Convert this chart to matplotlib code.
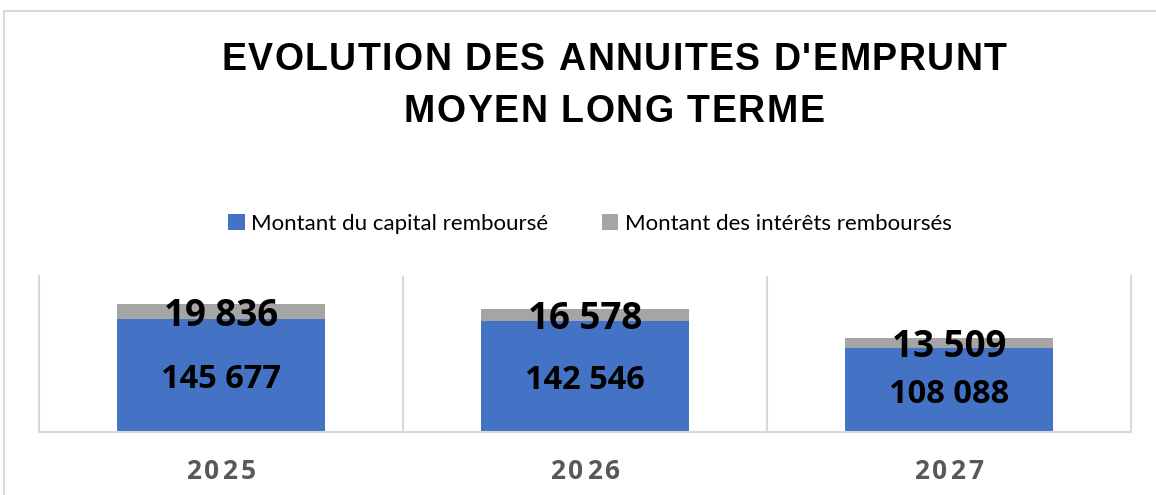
import numpy as np
import matplotlib
matplotlib.use("Agg")
import matplotlib.pyplot as plt
from matplotlib.font_manager import FontProperties
from matplotlib.transforms import offset_copy, blended_transform_factory
from matplotlib.patches import Rectangle

# --------------------- Data ----------------------
years = ["2025", "2026", "2027"]
capital = [145677, 142546, 108088]
interets = [19836, 16578, 13509]
series_names = ["Montant du capital remboursé", "Montant des intérêts remboursés"]
title_lines = ["EVOLUTION DES ANNUITES D'EMPRUNT", "MOYEN LONG TERME"]

BLUE = "#4472C4"
GREY = "#A5A5A5"
GRID = "#D9D9D9"
W, H = 1156, 495


def fmt(v):
    return f"{v:,}".replace(",", " ")


def spaced_text(fig, x, y, s, transform, spacing, fp, yoff=0, **kw):
    # no letter spacing in matplotlib: place the characters one by one
    renderer = fig.canvas.get_renderer()
    widths = [renderer.get_text_width_height_descent(c, fp, ismath=False)[0] for c in s]
    total = sum(widths) + spacing * (len(s) - 1)
    pos = -total / 2
    for c, w in zip(s, widths):
        tr = offset_copy(transform, fig=fig, x=pos + w / 2, y=yoff, units="dots")
        fig.text(x, y, c, transform=tr, fontproperties=fp, ha="center", **kw)
        pos += w + spacing


# --------------------- Plotting ------------------------
fig = plt.figure(figsize=(W / 100, H / 100), dpi=100)
ax = fig.add_axes([39 / W, 63 / H, 1092 / W, 156 / H])

x = np.arange(len(years))
b1 = ax.bar(x, capital, width=0.57, color=BLUE, zorder=2)
b2 = ax.bar(x, interets, bottom=capital, width=0.57, color=GREY, zorder=2)

ax.set_xlim(-0.5, len(years) - 0.5)
ax.set_ylim(0, 201000)
ax.set_xticks([])
ax.set_yticks([])
ax.spines["top"].set_visible(False)
for s in ["left", "right", "bottom"]:
    ax.spines[s].set_color(GRID)
    ax.spines[s].set_linewidth(1.5)
for b in x[:-1] + 0.5:
    ax.axvline(b, color=GRID, lw=1.5, zorder=0)

for xi, c, i in zip(x, capital, interets):
    ax.text(xi, c / 2, fmt(c), ha="center", va="center_baseline",
            family="Open Sans", fontweight="bold", fontsize=23.5, zorder=3)
    ax.text(xi, c + i / 2, fmt(i), ha="center", va="center_baseline",
            family="Open Sans", fontweight="bold", fontsize=26.5, zorder=3)

# year labels, letter-spaced
tick_fp = FontProperties(family="Open Sans", weight="bold", size=19)
tick_tr = blended_transform_factory(ax.transData, ax.transAxes)
for xi, y in zip(x, years):
    spaced_text(fig, xi, 0, y, tick_tr, 3, tick_fp, yoff=-47,
                va="baseline", color="#595959")

# title, letter-spaced
title_fp = FontProperties(family="Liberation Sans", weight="bold", size=27)
for line, base in zip(title_lines, [70, 122]):
    spaced_text(fig, 614 / W, 1 - base / H, line, fig.transFigure, 1.5, title_fp,
                va="baseline", color="black")

fig.legend([b1, b2], series_names, loc="center",
           bbox_to_anchor=(590 / W, 1 - 224 / H), ncol=2, frameon=False,
           handlelength=0.75, handleheight=0.75, handletextpad=0.3,
           columnspacing=2.4, prop=FontProperties(family="Lato", size=16))

# chart area border
fig.patches.append(Rectangle((4 / W, -0.1), 1.2, 1.1 - 11 / H, transform=fig.transFigure,
                             fill=False, ec=GRID, lw=1.5))

fig.savefig("out.png", dpi=100)
